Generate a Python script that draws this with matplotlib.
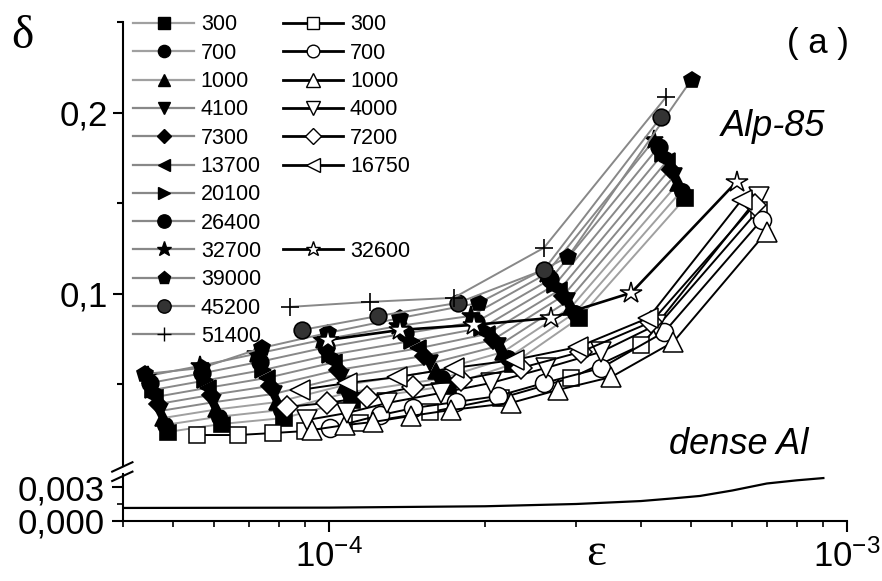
import matplotlib.pyplot as plt
from matplotlib.lines import Line2D
from matplotlib.ticker import LogLocator, NullFormatter

plt.rcParams['font.family'] = ['Liberation Sans', 'DejaVu Sans']
plt.rcParams['mathtext.fontset'] = 'custom'
plt.rcParams['mathtext.rm'] = 'Liberation Sans'
plt.rcParams['mathtext.it'] = 'Liberation Sans:italic'

# strain amplitude eps in units of 1e-5, damping delta
# Alp-85, filled symbols: number of cycles
filled_labels = ['300', '700', '1000', '4100', '7300', '13700', '20100',
                 '26400', '32700', '39000', '45200', '51400']
filled_eps = [
    [4.88, 6.20, 8.18, 11.08, 16.93, 22.63, 30.38, 48.75],
    [4.83, 6.13, 8.06, 10.91, 16.52, 22.15, 29.86, 47.96],
    [4.78, 6.06, 7.94, 10.73, 16.10, 21.66, 29.34, 47.18],
    [4.72, 5.98, 7.82, 10.56, 15.69, 21.18, 28.82, 46.39],
    [4.67, 5.91, 7.70, 10.39, 15.27, 20.70, 28.30, 45.61],
    [4.62, 5.84, 7.58, 10.21, 14.85, 20.21, 27.78, 44.82],
    [4.57, 5.77, 7.46, 10.04, 14.44, 19.73, 27.26, 44.03],
    [4.51, 5.69, 7.34, 9.86, 14.02, 19.24, 26.74, 43.25],
    [4.46, 5.62, 7.22, 9.69, 13.61, 18.76, 26.22, 42.46],
    [4.42, 5.67, 7.42, 9.96, 13.73, 19.44, 28.92, 50.08],
    [8.87, 12.45, 17.71, 25.98, 43.79],
    [8.40, 12.01, 17.39, 25.98, 44.78],
]
filled_delta = [
    [0.0238, 0.0282, 0.0315, 0.0414, 0.0492, 0.0613, 0.0867, 0.1530],
    [0.0277, 0.0322, 0.0359, 0.0456, 0.0533, 0.0646, 0.0897, 0.1570],
    [0.0315, 0.0362, 0.0403, 0.0497, 0.0575, 0.0679, 0.0928, 0.1610],
    [0.0354, 0.0402, 0.0448, 0.0539, 0.0616, 0.0712, 0.0958, 0.1651],
    [0.0392, 0.0442, 0.0492, 0.0580, 0.0658, 0.0746, 0.0989, 0.1691],
    [0.0431, 0.0482, 0.0536, 0.0622, 0.0699, 0.0779, 0.1019, 0.1731],
    [0.0470, 0.0522, 0.0580, 0.0663, 0.0740, 0.0812, 0.1049, 0.1771],
    [0.0508, 0.0562, 0.0625, 0.0705, 0.0782, 0.0845, 0.1080, 0.1811],
    [0.0547, 0.0602, 0.0669, 0.0746, 0.0823, 0.0878, 0.1110, 0.1851],
    [0.0558, 0.0591, 0.0702, 0.0785, 0.0867, 0.0950, 0.1204, 0.2182],
    [0.0801, 0.0878, 0.0950, 0.1133, 0.1978],
    [0.0928, 0.0956, 0.0978, 0.1254, 0.2088],
]

# Alp-85, open symbols: second sample
open_labels = ['300', '700', '1000', '4000', '7200', '16750', '32600']
open_eps = [
    [5.55, 6.66, 7.79, 8.99, 11.48, 15.69, 21.45, 29.32, 40.06, 67.53],
    [10.04, 12.56, 14.55, 17.55, 21.16, 25.98, 33.51, 44.39, 68.44],
    [9.27, 10.74, 12.17, 14.36, 17.16, 22.43, 27.66, 35.04, 46.21, 69.98],
    [9.07, 10.84, 12.96, 16.41, 20.51, 26.22, 33.51, 42.83, 67.53],
    [8.29, 9.91, 11.85, 14.55, 17.94, 23.45, 30.65, 41.89, 66.33],
    [8.79, 10.84, 13.55, 17.39, 22.74, 30.24, 41.33, 62.59],
    [9.96, 13.73, 19.01, 26.81, 38.31, 61.21],
]
open_delta = [
    [0.0221, 0.0221, 0.0232, 0.0243, 0.0287, 0.0348, 0.0425, 0.0536, 0.0718, 0.1464],
    [0.0260, 0.0331, 0.0370, 0.0403, 0.0436, 0.0508, 0.0591, 0.0790, 0.1409],
    [0.0249, 0.0276, 0.0293, 0.0326, 0.0359, 0.0398, 0.0470, 0.0541, 0.0735, 0.1343],
    [0.0304, 0.0343, 0.0398, 0.0453, 0.0508, 0.0591, 0.0680, 0.0829, 0.1536],
    [0.0376, 0.0398, 0.0431, 0.0486, 0.0525, 0.0591, 0.0680, 0.0845, 0.1492],
    [0.0470, 0.0508, 0.0541, 0.0591, 0.0635, 0.0707, 0.0867, 0.1519],
    [0.0746, 0.0801, 0.0829, 0.0867, 0.1006, 0.1619],
]

# dense Al reference curve
al_eps = [4.0, 10.0, 20.0, 30.0, 40.0, 46.0, 52.0, 60.0, 70.0, 80.0, 90.0]
al_delta = [0.00115, 0.00118, 0.00130, 0.00150, 0.00176, 0.00199,
            0.00221, 0.00269, 0.00331, 0.00359, 0.00379]

# symbol styles
filled_mk = ['s', 'o', '^', 'v', 'D', '<', '>', 'o', '*', 'p', 'o', '+']
filled_ms = [11, 11, 11, 11, 9, 11, 11, 12, 14, 12, 12, 13]
filled_fc = ['k'] * 10 + ['#333333', 'k']
filled_lc = ['#a0a0a0'] * 3 + ['#888888'] * 9
open_mk = ['s', 'o', '^', 'v', 'D', '<', '*']
open_ms = [12, 13, 14, 14, 11, 14, 16]

fig = plt.figure(figsize=(8.82, 5.81), dpi=100)
ax = fig.add_axes([0.1395, 0.1979, 0.8209, 0.7642])
axb = fig.add_axes([0.1395, 0.1033, 0.8209, 0.0809])

leg_handles = []
for i, lab in enumerate(filled_labels):
    x = [e * 1e-5 for e in filled_eps[i]]
    ax.plot(x, filled_delta[i], color=filled_lc[i], lw=1.4, marker=filled_mk[i],
            ms=filled_ms[i], mfc=filled_fc[i], mec='k', mew=1.2, zorder=2)
    leg_handles.append(Line2D([], [], color=filled_lc[i], lw=1.6, marker=filled_mk[i],
                              ms=filled_ms[i] * 0.8, mfc=filled_fc[i], mec='k'))

open_handles = []
for i, lab in enumerate(open_labels):
    x = [e * 1e-5 for e in open_eps[i]]
    lw = 1.9 if lab == '32600' else 1.4
    ax.plot(x, open_delta[i], color='k', lw=lw, marker=open_mk[i], ms=open_ms[i],
            mfc='white', mec='k', mew=1.1, zorder=3 + (lab == '32600'))
    open_handles.append(Line2D([], [], color='k', lw=2, marker=open_mk[i],
                               ms=open_ms[i] * 0.7, mfc='white', mec='k'))

axb.plot([e * 1e-5 for e in al_eps], al_delta, color='k', lw=1.6)

blank = Line2D([], [], linestyle='none')
col2 = open_handles[:6] + [blank, blank, open_handles[6], blank, blank, blank]
col2_labels = open_labels[:6] + [' ', ' ', open_labels[6], ' ', ' ', ' ']
ax.legend(leg_handles + col2, filled_labels + col2_labels, ncol=2,
          loc='upper left', bbox_to_anchor=(127 / 882, 1 - 8 / 581),
          bbox_transform=fig.transFigure, frameon=False, fontsize=15.5,
          handlelength=2.8, handletextpad=0.33, columnspacing=1.0,
          labelspacing=0.34, borderpad=0.3, borderaxespad=0)

for a in (ax, axb):
    a.set_xscale('log')
    a.set_xlim(4e-5, 1e-3)
    a.spines['top'].set_visible(False)
    a.spines['right'].set_visible(False)
    a.spines['left'].set_linewidth(1.5)
    a.spines['bottom'].set_linewidth(1.5)

ax.spines['bottom'].set_visible(False)
ax.set_ylim(0.005, 0.25)
ax.set_yticks([0.1, 0.2])
ax.set_yticklabels(['0,1', '0,2'])
ax.set_yticks([0.05, 0.15, 0.25], minor=True)
ax.tick_params(axis='x', which='both', bottom=False, labelbottom=False)
ax.tick_params(axis='y', which='major', direction='out', length=7, width=1.5,
               labelsize=25, pad=4)
ax.tick_params(axis='y', which='minor', direction='out', length=4, width=1.5)

axb.set_ylim(0, 0.00415)
axb.set_yticks([0, 0.003])
axb.set_yticklabels(['0,000', '0,003'])
axb.set_yticks([0.0015], minor=True)
axb.set_xticks([1e-4, 1e-3])
axb.set_xticklabels(['$10^{-4}$', '$10^{-3}$'])
axb.xaxis.set_minor_locator(LogLocator(base=10, subs=range(2, 10)))
axb.xaxis.set_minor_formatter(NullFormatter())
axb.tick_params(axis='both', which='major', direction='out', length=8, width=1.5,
                labelsize=25, pad=5)
axb.tick_params(axis='both', which='minor', direction='out', length=4, width=1.2)

# axis break marks on the left spine
brk = dict(transform=axb.transAxes, color='k', lw=1.5, clip_on=False)
axb.plot([-0.015, 0.013], [0.85, 1.05], **brk)
axb.plot([-0.015, 0.013], [1.05, 1.25], **brk)

fig.text(22 / 882, 1 - 37 / 581, 'δ', fontsize=34, family='Liberation Serif',
         ha='center', va='center')
fig.text(596 / 882, 1 - 554 / 581, 'ε', fontsize=34, family='Liberation Serif',
         ha='center', va='center')
fig.text(818 / 882, 1 - 43 / 581, '( a )', fontsize=25, ha='center', va='center')
fig.text(773 / 882, 1 - 127 / 581, 'Alp-85', fontsize=26, style='italic',
         ha='center', va='center')
fig.text(739 / 882, 1 - 445 / 581, 'dense Al', fontsize=26, style='italic',
         ha='center', va='center')

fig.savefig('out.png', dpi=100)
